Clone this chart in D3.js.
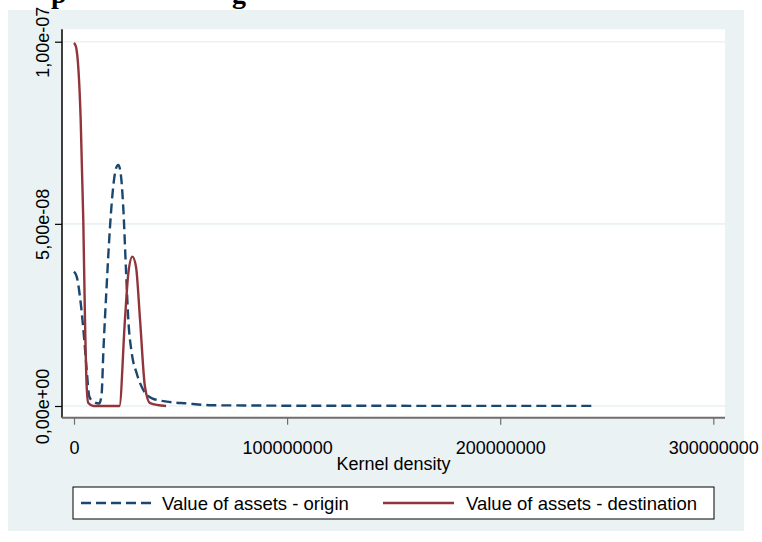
<!DOCTYPE html>
<html><head><meta charset="utf-8">
<script src="https://cdn.jsdelivr.net/npm/d3@7"></script>
<style>body{margin:0;background:#fff}svg{display:block}text{font-family:"Liberation Sans",Arial,sans-serif}text.ttl{font-family:"Liberation Serif","Times New Roman",serif;font-weight:bold}</style>
</head><body>
<svg id="c" width="762" height="542"></svg>
<script>
// ---- data ----
const xTicks = [0, 100000000, 200000000, 300000000];
const xTickLabels = ["0", "100000000", "200000000", "300000000"];
const yTicks = [0, 5e-8, 1e-7];
const yTickLabels = ["0,00e+00", "5,00e-08", "1,00e-07"];
const xTitle = "Kernel density";
const seriesNames = ["Value of assets - origin", "Value of assets - destination"];

const originX = [0, 1.27e6, 3.14e6, 4.69e6, 5.96e6, 7.18e6, 9.06e6, 11.9e6, 13.0e6, 13.75e6, 15.3e6, 16.9e6, 18.4e6, 19.7e6, 20.8e6, 21.9e6, 23.1e6, 24.4e6, 25.5e6, 27.1e6, 29.4e6, 32.5e6, 36.6e6, 43.5e6, 52.9e6, 65.2e6, 80e6, 100e6, 120e6, 150e6, 175e6, 200e6, 245e6];
const originY = [3.69e-8, 3.55e-8, 2.83e-8, 1.90e-8, 0.99e-8, 0.26e-8, 0.12e-8, 0.07e-8, 0.36e-8, 1.45e-8, 3.27e-8, 4.92e-8, 6.02e-8, 6.52e-8, 6.62e-8, 6.39e-8, 5.47e-8, 3.73e-8, 2.36e-8, 1.45e-8, 0.90e-8, 0.44e-8, 0.21e-8, 0.12e-8, 0.07e-8, 0.02e-8, 0.015e-8, 0.008e-8, 0.005e-8, 0.005e-8, 0.003e-8, 0.003e-8, 0.002e-8];

const destX = [0, 0.94e6, 3.14e6, 4.36e6, 5.16e6, 5.96e6, 6.71e6, 9.06e6, 21.3e6, 23.9e6, 25.5e6, 27.4e6, 29.1e6, 31.0e6, 33.3e6, 35.7e6, 43.2e6];
const destY = [9.97e-8, 9.86e-8, 7.85e-8, 5.1e-8, 2.36e-8, 0.53e-8, 0.08e-8, 0, 0, 2.36e-8, 3.65e-8, 4.1e-8, 3.82e-8, 2.36e-8, 0.53e-8, 0.08e-8, 0];

const colors = ["#1a476f", "#90353b"];

// ---- drawing ----
const svg = d3.select("#c");
const bg = "#eaf2f3";
svg.append("rect").attr("x", 8).attr("y", 10).attr("width", 736).attr("height", 521).attr("fill", bg);

// partially visible title (cut off at the top edge, as in the reference)
svg.append("text").attr("class", "ttl").attr("x", 51).attr("y", 3).attr("font-size", 28).attr("fill", "#000").text("p");
svg.append("text").attr("class", "ttl").attr("x", 232).attr("y", 3).attr("font-size", 28).attr("fill", "#000").text("g");

const plot = {left: 62, right: 725, top: 29.3, bottom: 417.7};
svg.append("rect").attr("x", plot.left).attr("y", plot.top).attr("width", plot.right - plot.left).attr("height", plot.bottom - plot.top).attr("fill", "#fff");

const x = d3.scaleLinear().domain([0, 3e8]).range([74, 713.3]);
const y = d3.scaleLinear().domain([0, 1e-7]).range([406, 41.7]);

// gridlines
svg.append("g").selectAll("line").data(yTicks).join("line")
  .attr("x1", plot.left).attr("x2", plot.right)
  .attr("y1", d => y(d)).attr("y2", d => y(d))
  .attr("stroke", bg).attr("stroke-width", 1.6);

// series
const line = d3.line().x(d => x(d[0])).y(d => y(d[1])).curve(d3.curveMonotoneX);
const originData = originX.map((v, i) => [v, originY[i]]);
const destData = destX.map((v, i) => [v, destY[i]]);
svg.append("path").datum(originData).attr("d", line).attr("fill", "none")
  .attr("stroke", colors[0]).attr("stroke-width", 2.4).attr("stroke-dasharray", "10,5");
svg.append("path").datum(destData).attr("d", line).attr("fill", "none")
  .attr("stroke", colors[1]).attr("stroke-width", 2.4);

// y axis
const yAxis = d3.axisLeft(y).tickValues(yTicks).tickSize(7).tickFormat((d, i) => yTickLabels[i]);
const gy = svg.append("g").attr("transform", `translate(${plot.left},0)`).call(yAxis);
gy.select(".domain").remove();
gy.append("line").attr("x1", 0).attr("x2", 0).attr("y1", plot.top).attr("y2", plot.bottom).attr("stroke", "#000").attr("stroke-width", 1.5);
gy.selectAll(".tick line").attr("stroke", "#000").attr("stroke-width", 1.2);
gy.selectAll(".tick text").attr("font-size", 18).attr("fill", "#000")
  .attr("text-anchor", "middle").attr("x", 0).attr("y", 0).attr("dy", 0)
  .attr("transform", "translate(-13,0) rotate(-90)");

// x axis
const xAxis = d3.axisBottom(x).tickValues(xTicks).tickSize(7).tickFormat((d, i) => xTickLabels[i]);
const gx = svg.append("g").attr("transform", `translate(0,${plot.bottom})`).call(xAxis);
gx.select(".domain").remove();
gx.append("line").attr("x1", plot.left).attr("x2", plot.right).attr("y1", 0).attr("y2", 0).attr("stroke", "#6e6e6e").attr("stroke-width", 2);
gx.selectAll(".tick line").attr("stroke", "#6e6e6e").attr("stroke-width", 1.2);
gx.selectAll(".tick text").attr("font-size", 18).attr("fill", "#000").attr("y", 36.5).attr("dy", 0);

svg.append("text").attr("x", (plot.left + plot.right) / 2).attr("y", 470).attr("text-anchor", "middle")
  .attr("font-size", 18).attr("fill", "#000").text(xTitle);

// legend
const lg = svg.append("g");
lg.append("rect").attr("x", 73).attr("y", 487).attr("width", 641).attr("height", 32).attr("fill", "#fff").attr("stroke", "#000").attr("stroke-width", 1);
const items = [{sx: 81, tx: 162, dash: "10,5"}, {sx: 383, tx: 466, dash: null}];
items.forEach((it, i) => {
  const l = lg.append("line").attr("x1", it.sx).attr("x2", it.sx + 71).attr("y1", 503).attr("y2", 503)
    .attr("stroke", colors[i]).attr("stroke-width", 2.4);
  if (it.dash) l.attr("stroke-dasharray", it.dash);
  lg.append("text").attr("x", it.tx).attr("y", 509.5).attr("font-size", 18.5).attr("fill", "#000").text(seriesNames[i]);
});
</script>
</body></html>
